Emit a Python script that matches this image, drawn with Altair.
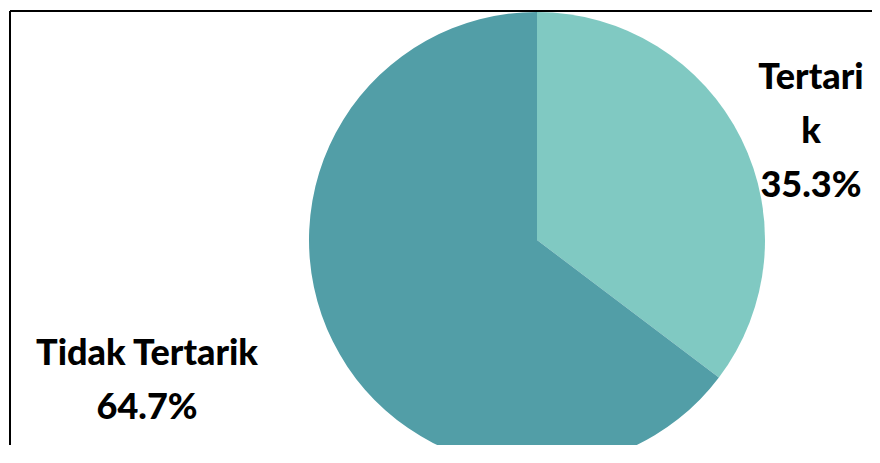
import altair as alt
import pandas as pd

categories = ["Tertarik", "Tidak Tertarik"]
shares = [35.3, 64.7]
label_names = ["Tertari\nk", "Tidak Tertarik"]
slice_order = [0, 1]
colors = ["#80C9C2", "#529EA7"]

W, H = 862, 434
CX, CY = 527, 229

df = pd.DataFrame({
    "category": categories,
    "share": shares,
    "name": label_names,
    "order": slice_order,
})
df["label"] = df["name"] + "\n" + df["share"].map(lambda v: f"{v:.1f}%")

pie = alt.Chart(df).mark_arc(outerRadius=228).encode(
    theta=alt.Theta("share:Q", stack=True),
    order=alt.Order("order:Q"),
    color=alt.Color("category:N", scale=alt.Scale(domain=categories, range=colors), legend=None),
    x=alt.value(CX),
    y=alt.value(CY),
)

label_base = alt.Chart(df).transform_joinaggregate(
    total="sum(share)"
).transform_window(
    cum="sum(share)", sort=[alt.SortField("order")], frame=[None, 0]
).transform_calculate(
    mid="(datum.cum - datum.share / 2) / datum.total * 2 * PI"
)


def label_layer(cat, dx, dy):
    return label_base.transform_filter(alt.datum.category == cat).mark_text(
        radius=306, dx=dx, dy=dy, align="center", baseline="alphabetic",
        font="Lato", fontSize=36, fontWeight=900, color="black",
        lineBreak="\n", lineHeight=54,
    ).encode(
        theta=alt.Theta("mid:Q", scale=None),
        text="label:N",
        x=alt.value(CX),
        y=alt.value(CY),
    )


top_border = alt.Chart(df).mark_rule(color="black", strokeWidth=2).encode(
    x=alt.value(0), x2=alt.value(W), y=alt.value(0)
)
left_border = alt.Chart(df).mark_rule(color="black", strokeWidth=2).encode(
    x=alt.value(0), y=alt.value(0), y2=alt.value(H)
)

chart = alt.layer(
    pie,
    label_layer("Tertarik", 0, -15),
    label_layer("Tidak Tertarik", -116, -11),
    top_border,
    left_border,
).properties(
    width=W, height=H,
    padding={"left": 2, "top": 3, "right": 0, "bottom": 0},
    autosize="none",
    background="white",
).configure_view(stroke="transparent", strokeWidth=0)

chart.save("out.html", embed_options={"renderer": "svg", "actions": False})
